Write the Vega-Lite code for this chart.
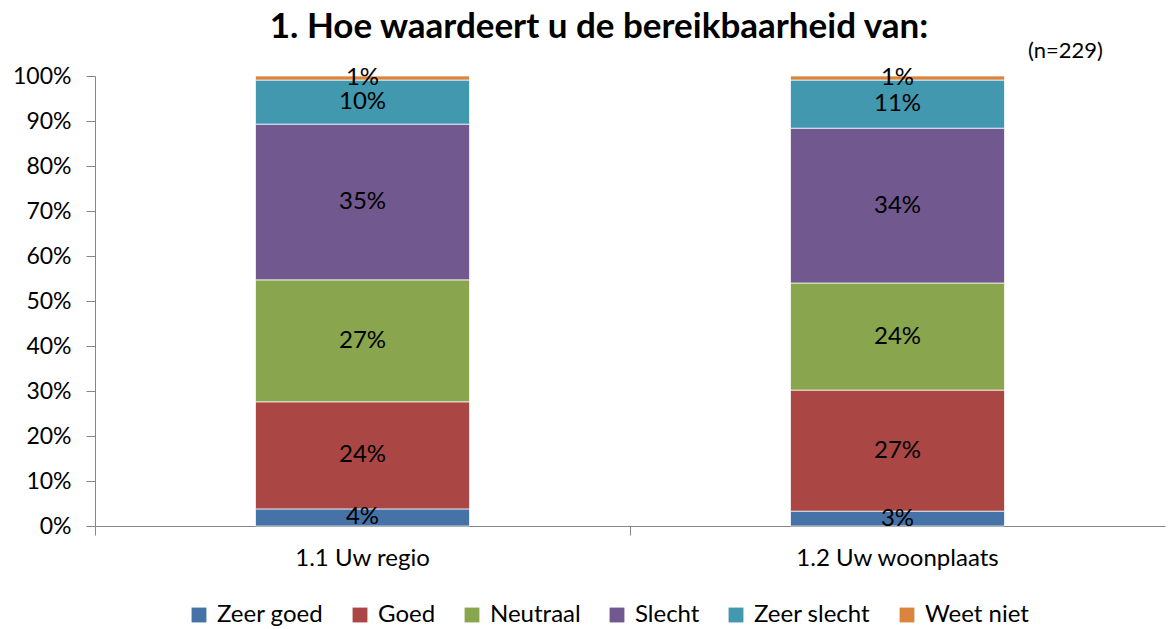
{
  "$schema": "https://vega.github.io/schema/vega-lite/v6.json",
  "width": 1070,
  "height": 450,
  "autosize": {"type": "none"},
  "padding": {"left": 95, "top": 76, "right": 3, "bottom": 103},
  "background": "white",
  "title": {
    "text": "1. Hoe waardeert u de bereikbaarheid van:",
    "font": "Lato",
    "fontSize": 35,
    "fontWeight": "bold",
    "color": "#000000",
    "anchor": "middle",
    "dx": -31,
    "offset": -5
  },
  "data": {
    "values": [
      {"item": "1.1 Uw regio", "cat": "Zeer goed", "ord": 1, "value": 0.038},
      {"item": "1.1 Uw regio", "cat": "Goed", "ord": 2, "value": 0.238},
      {"item": "1.1 Uw regio", "cat": "Neutraal", "ord": 3, "value": 0.271},
      {"item": "1.1 Uw regio", "cat": "Slecht", "ord": 4, "value": 0.346},
      {"item": "1.1 Uw regio", "cat": "Zeer slecht", "ord": 5, "value": 0.098},
      {"item": "1.1 Uw regio", "cat": "Weet niet", "ord": 6, "value": 0.009},
      {"item": "1.2 Uw woonplaats", "cat": "Zeer goed", "ord": 1, "value": 0.033},
      {"item": "1.2 Uw woonplaats", "cat": "Goed", "ord": 2, "value": 0.269},
      {"item": "1.2 Uw woonplaats", "cat": "Neutraal", "ord": 3, "value": 0.238},
      {"item": "1.2 Uw woonplaats", "cat": "Slecht", "ord": 4, "value": 0.344},
      {"item": "1.2 Uw woonplaats", "cat": "Zeer slecht", "ord": 5, "value": 0.107},
      {"item": "1.2 Uw woonplaats", "cat": "Weet niet", "ord": 6, "value": 0.009}
    ]
  },
  "encoding": {
    "x": {
      "field": "item",
      "type": "nominal",
      "sort": null,
      "scale": {"paddingInner": 0.6, "paddingOuter": 0.3},
      "axis": {
        "title": null,
        "labelAngle": 0,
        "labelFont": "Lato",
        "labelFontSize": 24,
        "labelLimit": 500,
        "labelColor": "#000000",
        "labelPadding": 11,
        "domainColor": "#868686",
        "tickColor": "#868686",
        "tickSize": 9,
        "bandPosition": -0.75
      }
    }
  },
  "layer": [
    {
      "mark": {"type": "bar", "stroke": "white", "strokeWidth": 1, "strokeOpacity": 0.7},
      "encoding": {
        "y": {
          "field": "value",
          "type": "quantitative",
          "stack": "zero",
          "scale": {"domain": [0, 1], "nice": false},
          "axis": {
            "title": null,
            "format": ".0%",
            "values": [0, 0.1, 0.2, 0.3, 0.4, 0.5, 0.6, 0.7, 0.8, 0.9, 1],
            "grid": false,
            "labelFont": "Lato",
            "labelFontSize": 23,
            "labelColor": "#000000",
            "labelPadding": 15,
            "domainColor": "#868686",
            "tickColor": "#868686",
            "tickSize": 9
          }
        },
        "color": {
          "field": "cat",
          "type": "nominal",
          "sort": ["Zeer goed", "Goed", "Neutraal", "Slecht", "Zeer slecht", "Weet niet"],
          "scale": {
            "domain": ["Zeer goed", "Goed", "Neutraal", "Slecht", "Zeer slecht", "Weet niet"],
            "range": ["#4572A7", "#AA4643", "#89A54E", "#71588F", "#4198AF", "#DB843D"]
          },
          "legend": {
            "title": null,
            "orient": "none",
            "legendX": 92,
            "legendY": 527,
            "direction": "horizontal",
            "symbolType": "square",
            "symbolSize": 220,
            "symbolStrokeWidth": 0,
            "labelFont": "Lato",
            "labelFontSize": 24,
            "labelColor": "#000000",
            "labelOffset": 6,
            "columnPadding": 24
          }
        },
        "order": {"field": "ord", "type": "quantitative"}
      }
    },
    {
      "transform": [
        {"stack": "value", "groupby": ["item"], "sort": [{"field": "ord"}], "as": ["y0", "y1"]},
        {"calculate": "(datum.y0 + datum.y1) / 2", "as": "mid"}
      ],
      "mark": {"type": "text", "font": "Lato", "fontSize": 24, "color": "#000000", "baseline": "middle", "align": "center"},
      "encoding": {
        "y": {"field": "mid", "type": "quantitative"},
        "text": {"field": "value", "type": "quantitative", "format": ".0%"}
      }
    },
    {
      "data": {"values": [{"item": "1.2 Uw woonplaats", "pos": 1.055, "note": "(n=229)"}]},
      "mark": {"type": "text", "font": "Lato", "fontSize": 22, "color": "#000000", "baseline": "middle", "align": "center", "dx": 168},
      "encoding": {
        "y": {"field": "pos", "type": "quantitative"},
        "text": {"field": "note"}
      }
    }
  ],
  "config": {
    "view": {"stroke": null}
  }
}
